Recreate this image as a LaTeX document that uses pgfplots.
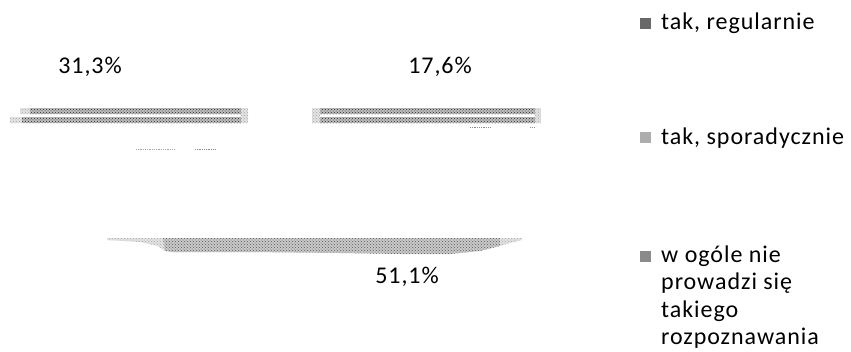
\documentclass[border=0pt]{standalone}
\usepackage{fontspec}
\setmainfont{Carlito}[LetterSpace=4]
\usepackage{pgfplots}
\pgfplotsset{compat=1.18}
\usetikzlibrary{patterns}
\definecolor{cReg}{HTML}{686868}
\definecolor{cSpor}{HTML}{ADADAD}
\definecolor{cNie}{HTML}{8A8A8A}
\tikzset{
  slab/.style={draw=none, fill=gray!52,
    postaction={pattern=crosshatch dots, pattern color=black!85}},
  slabfade/.style={draw=none, fill=gray!22,
    postaction={pattern=crosshatch dots, pattern color=black!35}},
  lbl/.style={font=\fontsize{24}{28}\selectfont, text=black},
}
\begin{document}
\begin{tikzpicture}
\useasboundingbox (0,0) rectangle (851pt,351pt);
\begin{axis}[
  at={(0,0)}, anchor=south west,
  width=851pt, height=351pt, scale only axis,
  xmin=0, xmax=851, ymin=0, ymax=351, y dir=reverse,
  hide axis, clip=false,
]
% slice "tak, regularnie" (31,3%), seen edge-on
\addplot[slabfade] coordinates {(20,108) (30,108) (30,114) (20,114)} -- cycle;
\addplot[slab] coordinates {(30,108) (241,108) (241,114) (30,114)} -- cycle;
\addplot[slabfade] coordinates {(10,117) (22,117) (22,123) (10,123)} -- cycle;
\addplot[slab] coordinates {(22,117) (241,117) (241,123) (22,123)} -- cycle;
\addplot[slabfade] coordinates {(241,108) (248,108) (248,123) (241,123)} -- cycle;
\addplot[densely dotted, black!35, line width=0.8pt] coordinates {(136,149) (175,149)};
\addplot[densely dotted, black!45, line width=0.8pt] coordinates {(195,149) (215,149)};
% slice "tak, sporadycznie" (17,6%)
\addplot[slabfade] coordinates {(312,108) (320,108) (320,123) (312,123)} -- cycle;
\addplot[slab] coordinates {(320,108) (535,108) (535,114) (320,114)} -- cycle;
\addplot[slab] coordinates {(320,117) (535,117) (535,123) (320,123)} -- cycle;
\addplot[slabfade] coordinates {(535,108) (541,108) (541,123) (535,123)} -- cycle;
\addplot[densely dotted, black!45, line width=0.8pt] coordinates {(470,127) (490,127)};
\addplot[densely dotted, black!45, line width=0.8pt] coordinates {(530,127) (535,127)};
% slice "w ogole nie prowadzi sie..." (51,1%)
\addplot[slabfade]
  coordinates {(107,238) (165,238) (165,251) (158,246) (140,242) (107,240)} -- cycle;
\addplot[draw=none, fill=gray!42,
  postaction={pattern=crosshatch dots, pattern color=black!65}]
  coordinates {(163,238) (500,238) (500,246) (480,251) (450,254)
               (400,254) (340,253) (250,252) (172,252) (165,251)} -- cycle;
\addplot[slabfade]
  coordinates {(500,238) (522,238) (522,240) (510,243) (500,246)} -- cycle;
% value labels
\node[lbl] at (axis cs:90,67) {31,3\%};
\node[lbl] at (axis cs:440,67) {17,6\%};
\node[lbl] at (axis cs:407,277) {51,1\%};
% legend
\fill[cReg]  (axis cs:640,17.5) rectangle (axis cs:651,28.5);
\fill[cSpor] (axis cs:640,132) rectangle (axis cs:651,143);
\fill[cNie]  (axis cs:640,250.5) rectangle (axis cs:651,261.5);
\node[lbl, anchor=base west, inner sep=0pt] at (axis cs:661,29) {tak, regularnie};
\node[lbl, anchor=base west, inner sep=0pt] at (axis cs:661,144) {tak, sporadycznie};
\node[lbl, anchor=base west, inner sep=0pt] at (axis cs:661,262) {w ogóle nie};
\node[lbl, anchor=base west, inner sep=0pt] at (axis cs:661,289.5) {prowadzi się};
\node[lbl, anchor=base west, inner sep=0pt] at (axis cs:661,317) {takiego};
\node[lbl, anchor=base west, inner sep=0pt] at (axis cs:661,344) {rozpoznawania};
\end{axis}
\end{tikzpicture}
\end{document}
